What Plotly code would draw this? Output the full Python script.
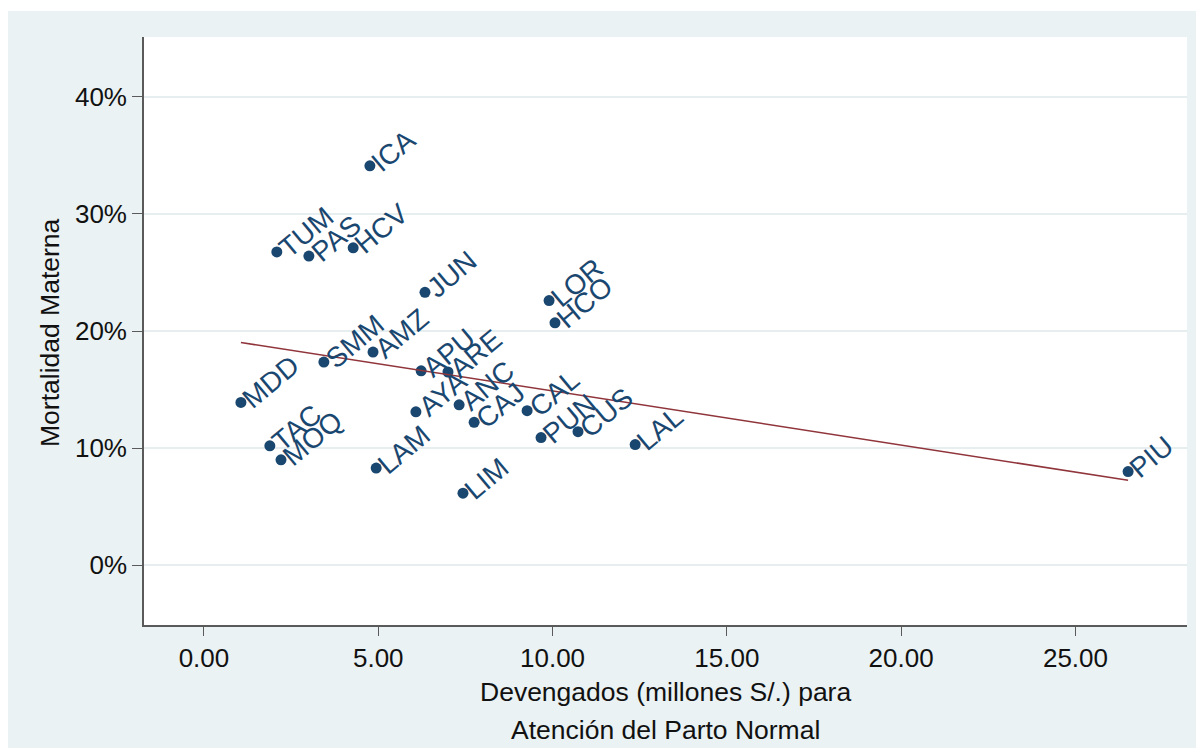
import numpy as np
import plotly.graph_objects as go

# ---- data ----
departamentos = ["ICA", "TUM", "PAS", "HCV", "JUN", "LOR", "HCO", "SMM", "AMZ", "APU",
                 "ARE", "MDD", "AYA", "ANC", "CAJ", "CAL", "PUN", "CUS", "LAL", "TAC",
                 "MOQ", "LAM", "LIM", "PIU"]
devengados = [4.76, 2.09, 3.01, 4.28, 6.34, 9.90, 10.07, 3.44, 4.85, 6.23,
              7.00, 1.06, 6.08, 7.32, 7.75, 9.27, 9.67, 10.73, 12.37, 1.89,
              2.21, 4.94, 7.43, 26.51]
mortalidad = [34.1, 26.75, 26.4, 27.1, 23.3, 22.6, 20.7, 17.35, 18.2, 16.6,
              16.5, 13.9, 13.1, 13.7, 12.2, 13.2, 10.9, 11.4, 10.3, 10.2,
              9.0, 8.3, 6.15, 8.0]
x_ticks = [0, 5, 10, 15, 20, 25]
y_ticks = [0, 10, 20, 30, 40]
y_tick_labels = ["0%", "10%", "20%", "30%", "40%"]
x_title = ["Devengados (millones S/.) para", "Atención del Parto Normal"]
y_title = "Mortalidad Materna"

NAVY = "#1a476f"
MAROON = "#90353b"
BG = "#eaf2f3"
AXIS = "#5a5a5a"
TXT = "#111111"
FONT = "Liberation Sans, Arial, sans-serif"

# page body has an 8px margin -> figure is drawn offset by 8px
OFF = 8
W, H = 1204 - OFF, 748 - OFF
ML, MR, MT, MB = 144 - OFF, 17, 37 - OFF, 123
PW, PH = W - ML - MR, H - MT - MB


def px_x(p):  # absolute page pixel -> paper x
    return (p - OFF - ML) / PW


def px_y(p):  # absolute page pixel -> paper y
    return (H - MB - (p - OFF)) / PH


fig = go.Figure()

fig.add_trace(go.Scatter(
    x=devengados, y=mortalidad, mode="markers",
    marker=dict(size=11, color=NAVY, line=dict(width=0)),
    showlegend=False, hoverinfo="skip"))

slope, intercept = np.polyfit(devengados, mortalidad, 1)
xfit = [min(devengados), max(devengados)]
yfit = [intercept + slope * v for v in xfit]
fig.add_trace(go.Scatter(
    x=xfit, y=yfit, mode="lines",
    line=dict(color=MAROON, width=1.6),
    showlegend=False, hoverinfo="skip"))

# rotated marker labels (Stata-style mlabangle)
CW = {"A": .667, "B": .667, "C": .722, "D": .722, "E": .667, "H": .722, "I": .278,
      "J": .5, "L": .556, "M": .833, "N": .722, "O": .778, "P": .667, "Q": .778,
      "R": .722, "S": .667, "T": .611, "U": .722, "V": .667, "Y": .667, "Z": .611}
LBL_SIZE = 28
ANG = 40
GAP = 6
ca, sa = np.cos(np.radians(ANG)), np.sin(np.radians(ANG))
for code, xv, yv in zip(departamentos, devengados, mortalidad):
    w = sum(CW.get(c, .6) for c in code) * LBL_SIZE
    fig.add_annotation(
        x=xv, y=yv, xref="x", yref="y", text=code, showarrow=False,
        textangle=-ANG, xanchor="center", yanchor="middle",
        xshift=GAP + (w / 2) * ca, yshift=(w / 2) * sa,
        font=dict(family=FONT, size=LBL_SIZE, color=NAVY))

# axis titles
TSIZE = 26.5
fig.add_annotation(x=px_x(665), y=px_y(692), xref="paper", yref="paper",
                   text=x_title[0], showarrow=False, xanchor="center", yanchor="middle",
                   font=dict(family=FONT, size=TSIZE, color=TXT))
fig.add_annotation(x=px_x(665), y=px_y(730), xref="paper", yref="paper",
                   text=x_title[1], showarrow=False, xanchor="center", yanchor="middle",
                   font=dict(family=FONT, size=TSIZE, color=TXT))
fig.add_annotation(x=px_x(50), y=px_y(333), xref="paper", yref="paper",
                   text=y_title, showarrow=False, textangle=-90,
                   xanchor="center", yanchor="middle",
                   font=dict(family=FONT, size=TSIZE, color=TXT))

# white strip on top (page is white above y=11)
fig.add_shape(type="rect", xref="paper", yref="paper",
              x0=px_x(-20), x1=px_x(1230), y0=px_y(11), y1=px_y(-20),
              fillcolor="white", line=dict(width=0), layer="below")

fig.update_layout(
    width=W, height=H,
    margin=dict(l=ML, r=MR, t=MT, b=MB, pad=0),
    paper_bgcolor=BG, plot_bgcolor="white",
    font=dict(family=FONT, color=TXT),
    xaxis=dict(
        range=[-1.72, 28.2], tickvals=x_ticks, tickformat=".2f",
        ticks="outside", ticklen=9, tickwidth=1.2, tickcolor=AXIS,
        showline=True, linecolor=AXIS, linewidth=1.6,
        showgrid=False, zeroline=False,
        tickfont=dict(size=26, family=FONT, color=TXT),
    ),
    yaxis=dict(
        range=[-5.1, 45.1], tickvals=y_ticks, ticktext=y_tick_labels,
        ticks="outside", ticklen=10, tickwidth=1.2, tickcolor=AXIS,
        showline=True, linecolor=AXIS, linewidth=1.6,
        showgrid=True, gridcolor="#e6eef0", gridwidth=1.5, zeroline=False,
        tickfont=dict(size=26, family=FONT, color=TXT),
    ),
)

fig.write_html("out.html")
